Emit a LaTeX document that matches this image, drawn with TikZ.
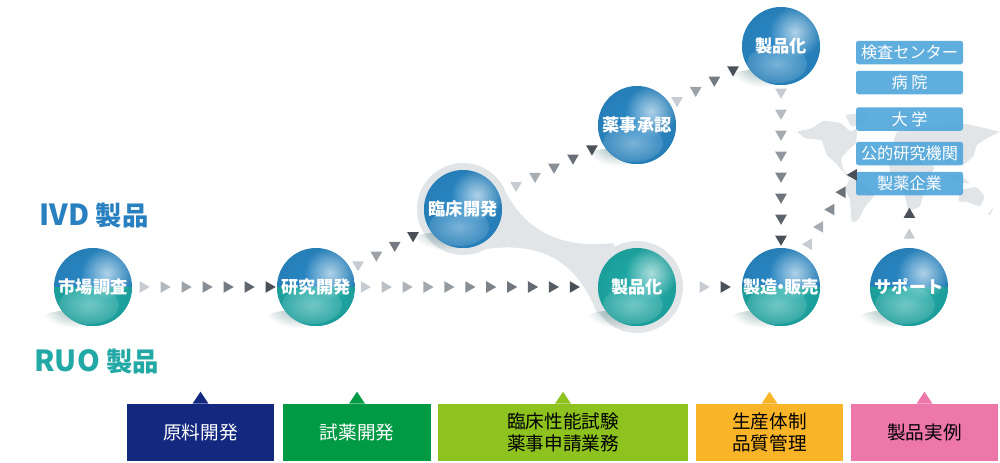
\documentclass[tikz,border=0pt]{standalone}
\usepackage{fontspec}
\usepackage{xcolor}
\setmainfont{Noto Sans CJK JP}
\usetikzlibrary{shapes.geometric,positioning,fadings}

\definecolor{orbblue}{HTML}{2A8AC8}
\definecolor{orbteal}{HTML}{1FADA9}
\definecolor{ivdblue}{HTML}{2880C0}
\definecolor{ruoteal}{HTML}{22A9A6}
\definecolor{blobgrey}{HTML}{E1E5E8}
\definecolor{mapgrey}{HTML}{E1E5E8}
\definecolor{trilight}{HTML}{C6CCD1}
\definecolor{tridark}{HTML}{4A5159}
\definecolor{servblue}{HTML}{4FA5DA}
\definecolor{rawnavy}{HTML}{13297F}
\definecolor{trialgreen}{HTML}{009A44}
\definecolor{clinlime}{HTML}{8DC21F}
\definecolor{qcamber}{HTML}{F9B428}
\definecolor{casepink}{HTML}{EE77AA}

\tikzfading[name=orbglow, inner color=transparent!30, outer color=transparent!100]
\tikzfading[name=orbsoft, inner color=transparent!50, outer color=transparent!85]
\tikzfading[name=orbrim, inner color=transparent!100, outer color=transparent!75]
\tikzfading[name=orbshade, inner color=transparent!55, outer color=transparent!100]

\tikzset{
    orb/.style 2 args={circle, inner sep=0pt, minimum size=15.6mm, text=white,
        font=\fontsize{9.8}{10}\selectfont\bfseries,
        path picture={
            \fill[#1] (path picture bounding box.north west) rectangle (path picture bounding box.south east);
            \fill[#2] (path picture bounding box.center) ++(-40,0) rectangle ++(80,40);
            \fill[black, path fading=orbrim, opacity=.4] (path picture bounding box.center) circle (46);
            \fill[white, path fading=orbglow, opacity=.9] (path picture bounding box.center) ++(14,-14) circle (26);
            \fill[white, path fading=orbsoft, opacity=.75] (path picture bounding box.center) ++(-4,18) ellipse (30 and 19);
        }},
    tri/.style={regular polygon, regular polygon sides=3, draw=none, inner sep=0pt, minimum size=2.7mm},
    servbox/.style={fill=servblue, fill opacity=.9, text opacity=1, text=white, rounded corners=.5mm,
        minimum width=21.4mm, minimum height=4.7mm, inner sep=0pt, font=\fontsize{9.2}{10}\selectfont},
    stagebox/.style={inner sep=0pt, minimum height=11.4mm, align=center,
        font=\fontsize{10.6}{12.6}\selectfont},
    prodlabel/.style={anchor=west, inner sep=0pt, font=\fontsize{16.5}{18}\selectfont\bfseries}
}

% triangles along the way from one node to another
\newcommand{\trichain}[7][]{
    \foreach \i in {1,...,#5}{
        \pgfmathsetmacro{\p}{#6+(\i-1)*(#7-#6)/(#5-1)}
        \pgfmathtruncatemacro{\c}{100*(\i-1)/(#5-1)}
        \path (#2.center) -- (#3.center) node[tri, shape border rotate=#4, fill=tridark!\c!trilight, pos=\p, #1] (#2#3\i) {};
    }
}

\begin{document}
\begin{tikzpicture}[x=.2mm, y=-.2mm]
    \useasboundingbox (0,0) rectangle (1000,462);

    % World map
    \begin{scope}[shift={(780,100)}, scale=1/3, fill=mapgrey, rounded corners=.3mm]
        \fill (50,95) -- (95,85) -- (130,62) -- (180,68) -- (212,95) -- (232,85) -- (228,130) -- (205,150) -- (182,175) -- (190,212) -- (215,235) -- (200,228) -- (170,192) -- (140,165) -- (125,120) -- (75,115) -- cycle;
        \fill (195,45) -- (265,35) -- (248,68) -- (215,82) -- cycle;
        \fill (210,235) -- (250,250) -- (285,285) -- (255,320) -- (235,360) -- (215,368) -- (210,300) -- (195,265) -- cycle;
        \fill (340,125) -- (350,95) -- (400,85) -- (480,75) -- (560,72) -- (660,95) -- (620,115) -- (590,135) -- (580,170) -- (545,200) -- (535,175) -- (500,190) -- (480,170) -- (430,165) -- (400,135) -- cycle;
        \fill (340,150) -- (400,150) -- (430,190) -- (465,200) -- (440,250) -- (420,320) -- (385,335) -- (370,270) -- (330,220) -- (325,180) -- cycle;
        \fill (500,225) -- (545,228) -- (570,250) -- (530,250) -- cycle;
        \fill (540,270) -- (590,260) -- (615,290) -- (600,320) -- (560,305) -- (535,305) -- cycle;
        \fill (622,345) -- (640,320) -- (632,345) -- cycle;
    \end{scope}

    % Link between the two development stages
    \fill[blobgrey] (463,209) circle (46) (637,287) circle (46)
        (503,187) .. controls (520,222) and (550,250) .. (613,243) -- (637,287)
        -- (597,313) .. controls (580,270) and (550,238) .. (480,250) -- (463,209) -- cycle;

    % Stage spheres
    \foreach \name/\x/\y/\up/\low/\txt in {
        mkt/93/287/orbblue/orbteal/市場調査,
        res/316/287/orbblue/orbteal/研究開発,
        clin/463/209/orbblue/orbblue/臨床開発,
        prod/637/287/orbteal/orbteal/製品化,
        app/637/125/orbblue/orbblue/薬事承認,
        top/781/46/orbblue/orbblue/製品化,
        mfg/781/287/orbblue/orbteal/製造\kern-.3em・\kern-.3em販売,
        sup/909/287/orbblue/orbteal/サポート}{
        \fill[black!55!orbteal, path fading=orbshade] (\x,\y) ++(-18,32) ellipse (34 and 9);
        \node[orb={\up}{\low}] (\name) at (\x,\y) {\txt};
    }

    % Customer boxes
    \node[servbox] (test) at (909.5,52.5) {検査センター};
    \node[servbox] (hosp) at (909.5,82.5) {病 院};
    \node[servbox] (univ) at (909.5,119) {大 学};
    \node[servbox] (inst) at (909.5,153.5) {公的研究機関};
    \node[servbox] (pharma) at (909.5,183.5) {製薬企業};
    \coordinate (pharmacorner) at (pharma.north west);
    \coordinate (pharmafoot) at (pharma.south);

    % Triangle chains
    \trichain{mkt}{res}{-90}{7}{.224}{.789}
    \trichain{res}{prod}{-90}{11}{.150}{.801}
    \trichain{res}{clin}{180}{4}{.286}{.66}
    \trichain[yshift=-.4mm]{clin}{app}{180}{5}{.305}{.741}
    \trichain[yshift=.5mm]{app}{top}{180}{4}{.278}{.667}
    \trichain{top}{mfg}{180}{8}{.191}{.801}
    \trichain{prod}{mfg}{-90}{2}{.458}{.604}
    \trichain{mfg}{pharmacorner}{90}{5}{.37}{.97}
    \trichain{sup}{pharmafoot}{0}{2}{.565}{.793}

    % Product labels
    \node[prodlabel, text=ivdblue] (ivd) at (39,216) {IVD {\fontsize{15}{18}\selectfont 製品}};
    \node[prodlabel, text=ruoteal] (ruo) at (34,361) {RUO {\fontsize{15}{18}\selectfont 製品}};

    % Stage boxes
    \foreach \name/\x/\w/\col/\tcol/\txt in {
        raw/200.5/29.4/rawnavy/white/原料開発,
        trial/357/29.6/trialgreen/white/試薬開発,
        perf/563/50/clinlime/black/臨床性能試験\\薬事申請業務,
        qual/769.5/29.4/qcamber/black/生産体制\\品質管理,
        case/924.5/29.4/casepink/black/製品実例}{
        \node[stagebox, fill=\col, text=\tcol, minimum width=\w mm] (\name) at (\x,432.5) {\txt};
        \fill[\col] (\name.north) ++(-8,0) -- ++(8,-12) -- ++(8,12) -- cycle;
    }
\end{tikzpicture}
\end{document}
